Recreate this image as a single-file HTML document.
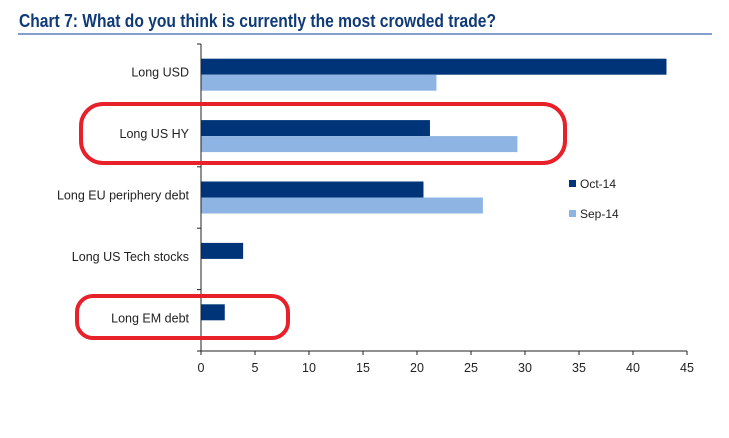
<!DOCTYPE html>
<html><head><meta charset="utf-8"><style>
body{margin:0;background:#fff;width:729px;height:433px;overflow:hidden;font-family:"Liberation Sans",sans-serif}
</style></head><body>
<svg width="729" height="433">
<text x="19" y="27" font-family="Liberation Sans Narrow, Liberation Sans, sans-serif" font-weight="bold" font-size="18" fill="#0f3a78" textLength="477" lengthAdjust="spacingAndGlyphs">Chart 7: What do you think is currently the most crowded trade?</text>
<line x1="18" y1="34" x2="712" y2="34" stroke="#5a7fbf" stroke-width="1.5"/>
<g id="plot"></g>
<g>
<rect x="569" y="180" width="7" height="7" fill="#003478"/>
<text x="580" y="188" font-size="12" fill="#222">Oct-14</text>
<rect x="569" y="210" width="7" height="7" fill="#8db4e2"/>
<text x="580" y="218" font-size="12" fill="#222">Sep-14</text>
</g>
<rect x="81" y="104" width="484" height="59" rx="22" fill="none" stroke="#e8202a" stroke-width="4"/>
<rect x="77" y="296" width="211" height="42" rx="16" fill="none" stroke="#e8202a" stroke-width="4"/>
</svg>
<script>
const categories=["Long USD","Long US HY","Long EU periphery debt","Long US Tech stocks","Long EM debt"];
const oct14=[43.1,21.2,20.6,3.9,2.2];
const sep14=[21.8,29.3,26.1,0,0];
const xTicks=[0,5,10,15,20,25,30,35,40,45];
const NS="http://www.w3.org/2000/svg";
const g=document.getElementById('plot');
const x0=201,x1=687,xMax=45,yTop=44,yBot=351;
const band=(yBot-yTop)/categories.length;
const xs=v=>x0+(x1-x0)*v/xMax;
function mk(t,a){const e=document.createElementNS(NS,t);for(const k in a)e.setAttribute(k,a[k]);g.appendChild(e);return e;}
categories.forEach((c,i)=>{
 const cy=yTop+band*i+band/2;
 if(oct14[i]>0){const r=mk('rect',{x:x0,y:cy-16,width:xs(oct14[i])-x0,height:16,fill:'#003478'});
 
 }
 if(sep14[i]>0){const r=mk('rect',{x:x0,y:cy,width:xs(sep14[i])-x0,height:16,fill:'#8db4e2'});
 
 }
 const t=mk('text',{x:189,y:cy+2,'text-anchor':'end','font-size':'12.5',fill:'#222'});t.textContent=c;
 
 
});
for(let i=0;i<=categories.length;i++){const y=yTop+band*i;const l=mk('line',{x1:x0-4,y1:y,x2:x0,y2:y,stroke:'#222'});
 
 }
const ya=mk('line',{x1:x0,y1:yTop,x2:x0,y2:yBot,stroke:'#222'});


const xa=mk('line',{x1:x0,y1:yBot,x2:x1,y2:yBot,stroke:'#222'});


xTicks.forEach(v=>{const x=xs(v);
 const l=mk('line',{x1:x,y1:yBot,x2:x,y2:yBot+4,stroke:'#222'});
 
 
 const t=mk('text',{x:x,y:372,'text-anchor':'middle','font-size':'12.5',fill:'#222'});t.textContent=v;
 
 
});
</script>
</body></html>
